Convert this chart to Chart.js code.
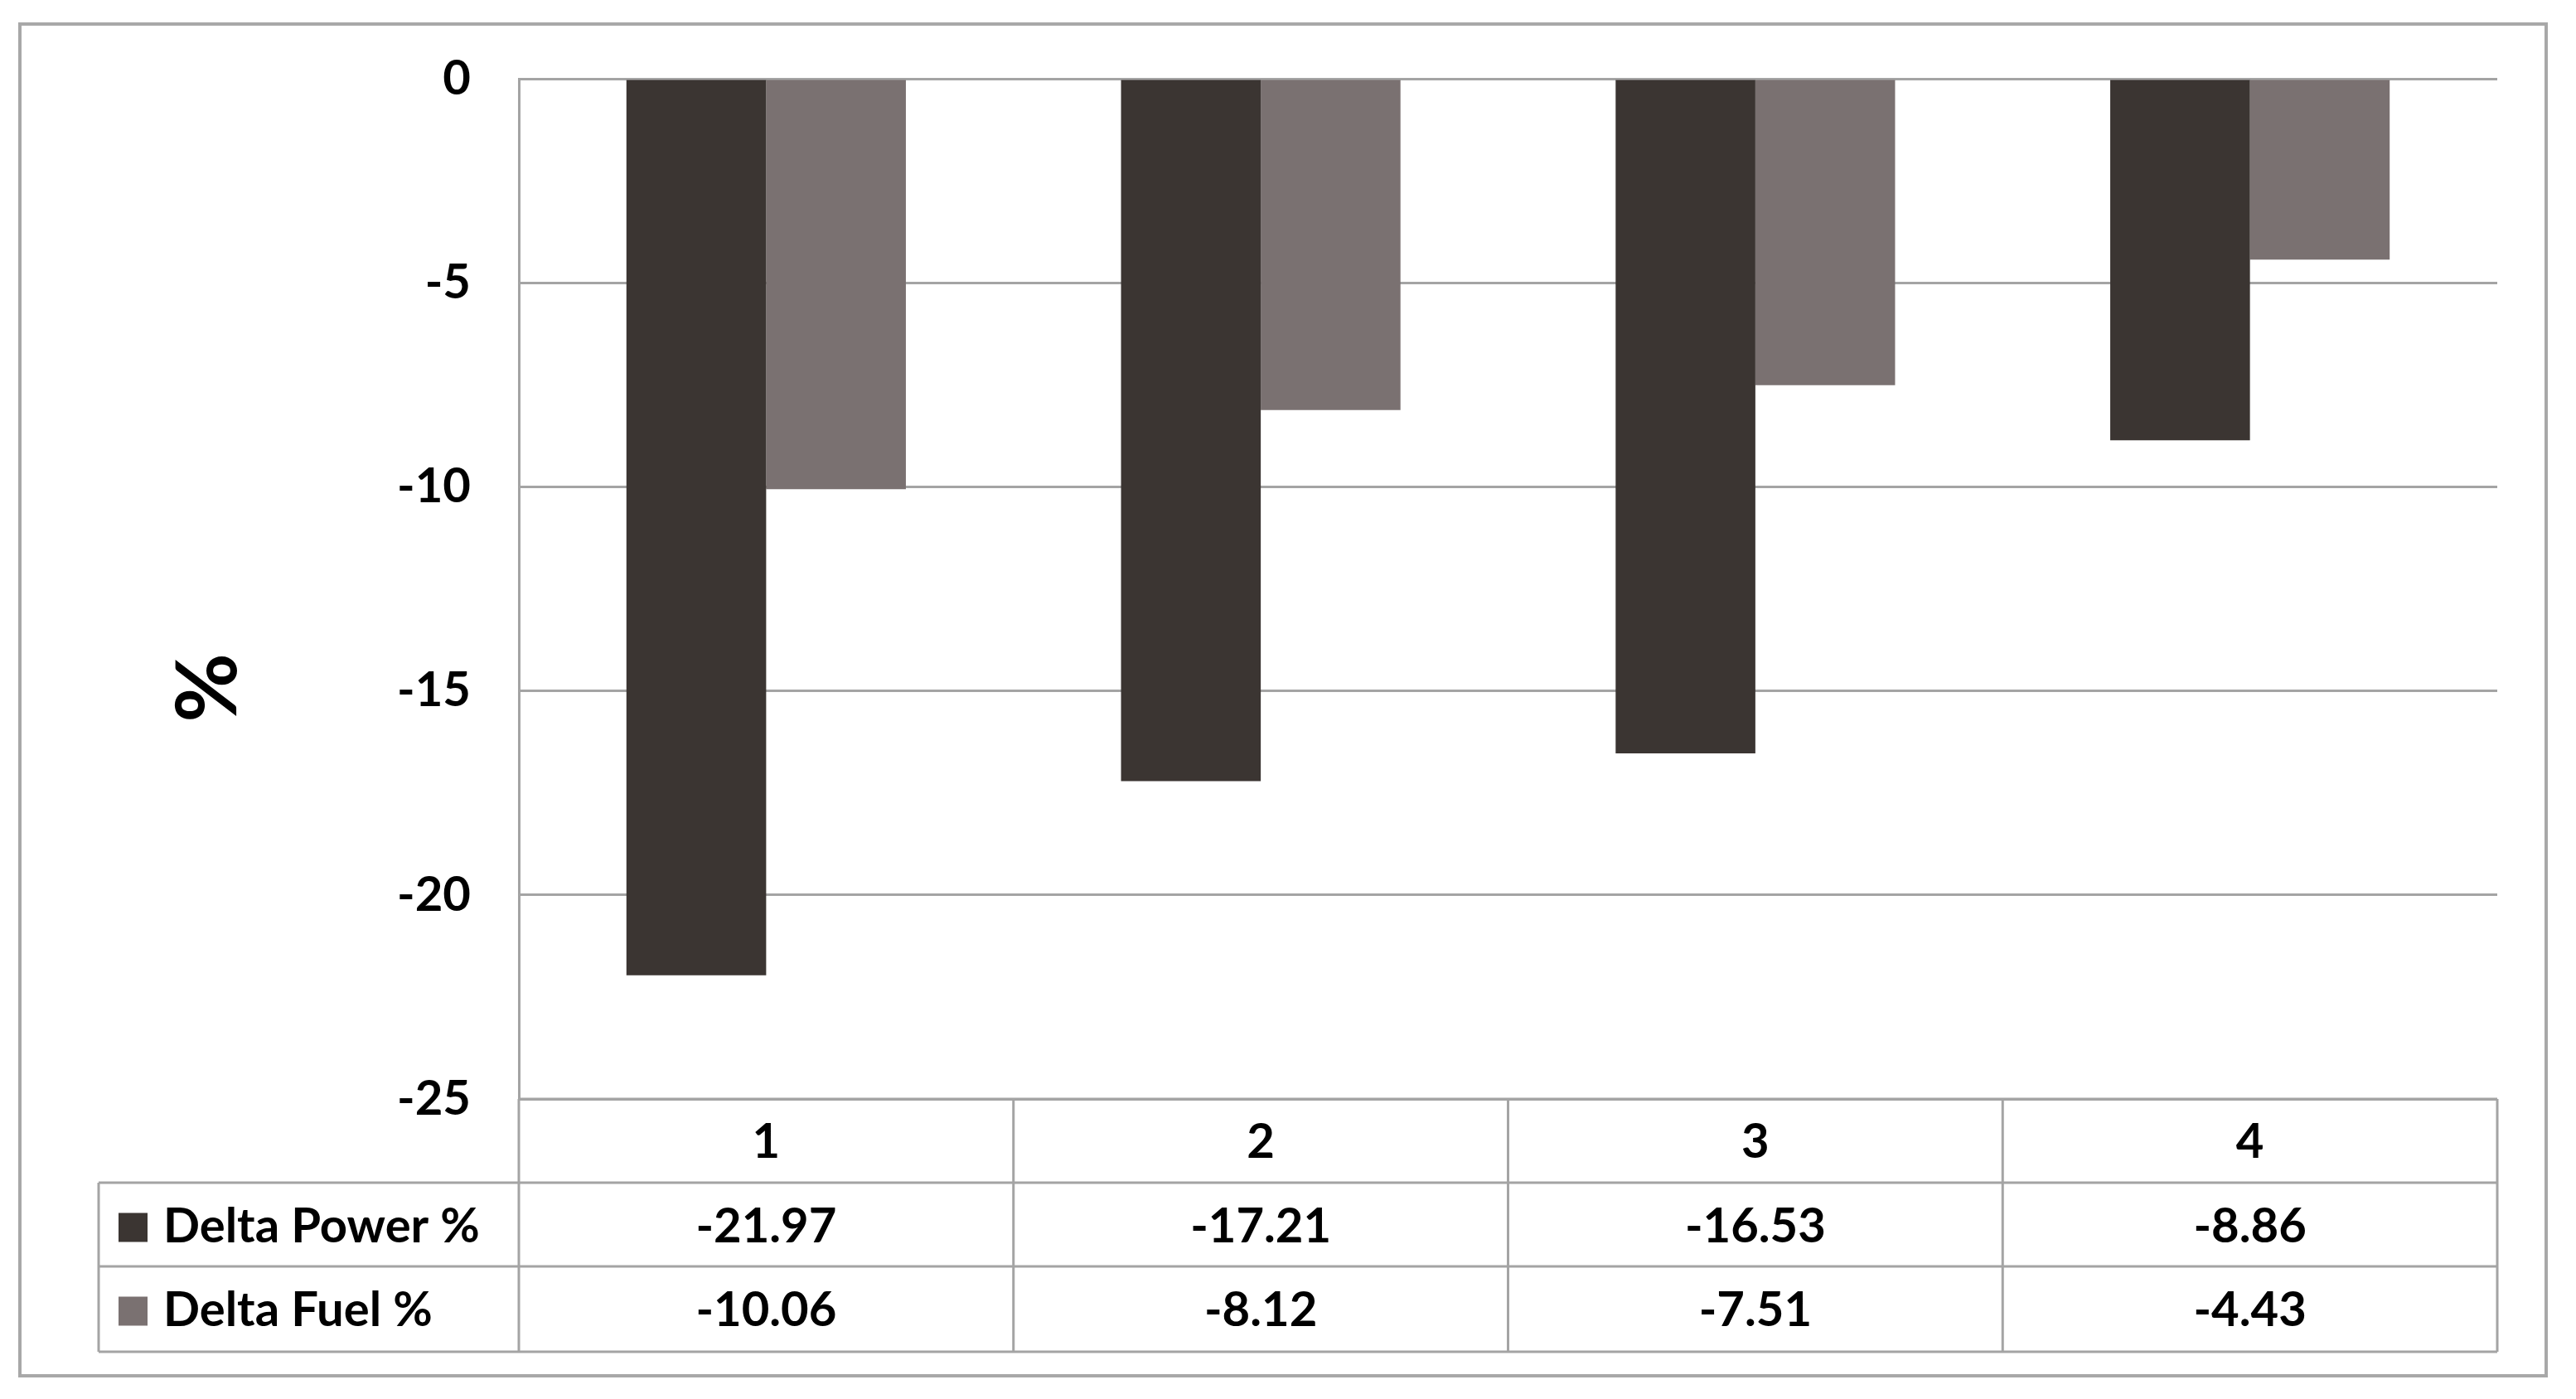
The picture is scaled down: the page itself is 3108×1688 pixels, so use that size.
<!DOCTYPE html>
<html>
<head>
<meta charset="utf-8">
<script src="https://cdn.jsdelivr.net/npm/chart.js@4.4.1/dist/chart.umd.min.js"></script>
<style>
  html, body { margin:0; padding:0; background:#fff; }
  #wrap { width:3108px; height:1688px; position:relative; }
</style>
</head>
<body>
<div id="wrap"><canvas id="c" width="3108" height="1688"></canvas></div>
<script>
const categories = ['1', '2', '3', '4'];
const deltaPower = [-21.97, -17.21, -16.53, -8.86];
const deltaFuel = [-10.06, -8.12, -7.51, -4.43];
const seriesNames = ['Delta Power %', 'Delta Fuel %'];
const yTicks = [0, -5, -10, -15, -20, -25];
const yTitle = '%';

const colors = ['#3b3532', '#7a7171'];
const lineCol = '#a4a4a4';
const fontFam = 'Lato, "Noto Sans", sans-serif';

// outer frame, y title and data table under the plot
const tablePlugin = {
  id: 'tablePlugin',
  afterDraw(chart) {
    const { ctx, chartArea: a, scales: { x } } = chart;
    const rowH = 101;
    const leftEdge = 119;
    const r0 = a.bottom, r1 = r0 + rowH, r2 = r1 + rowH, r3 = r2 + rowH + 2;
    const colW = x.width / categories.length;
    ctx.save();
    // outer frame
    ctx.strokeStyle = '#a8a8a8';
    ctx.lineWidth = 4;
    ctx.strokeRect(24, 29, 3048, 1631);
    // table grid
    ctx.strokeStyle = lineCol;
    ctx.lineWidth = 3;
    ctx.beginPath();
    ctx.moveTo(a.left, r0); ctx.lineTo(a.right, r0);
    [r1, r2, r3].forEach(y => { ctx.moveTo(leftEdge, y); ctx.lineTo(a.right, y); });
    ctx.moveTo(leftEdge, r1); ctx.lineTo(leftEdge, r3);
    for (let i = 0; i <= categories.length; i++) {
      const xx = a.left + i * colW;
      ctx.moveTo(xx, r0); ctx.lineTo(xx, r3);
    }
    ctx.stroke();
    // text
    ctx.fillStyle = '#000';
    ctx.font = 'bold 58px ' + fontFam;
    ctx.textAlign = 'center';
    ctx.textBaseline = 'middle';
    const rows = [deltaPower, deltaFuel];
    categories.forEach((c, i) => {
      const cx = x.getPixelForValue(i);
      ctx.fillText(c, cx, r0 + rowH / 2 + 2);
      rows.forEach((vals, k) => {
        ctx.fillText(vals[i].toFixed(2), cx, r1 + k * rowH + rowH / 2 + 3);
      });
    });
    // legend keys
    ctx.textAlign = 'left';
    seriesNames.forEach((n, k) => {
      const cy = r1 + k * rowH + rowH / 2 + 3;
      ctx.fillStyle = colors[k];
      ctx.fillRect(143, cy - 17, 35, 35);
      ctx.fillStyle = '#000';
      ctx.fillText(n, 197, cy);
    });
    // rotated y title
    ctx.translate(252, 830);
    ctx.rotate(-Math.PI / 2);
    ctx.textAlign = 'center';
    ctx.font = 'bold 102px ' + fontFam;
    ctx.fillText(yTitle, 0, 0);
    ctx.restore();
  }
};

new Chart(document.getElementById('c'), {
  type: 'bar',
  data: {
    labels: categories,
    datasets: [
      { label: seriesNames[0], data: deltaPower, backgroundColor: colors[0] },
      { label: seriesNames[1], data: deltaFuel, backgroundColor: colors[1] }
    ]
  },
  options: {
    responsive: false,
    animation: false,
    layout: { padding: { left: 0, top: 95, right: 95, bottom: 362 } },
    plugins: { legend: { display: false }, tooltip: { enabled: false } },
    datasets: { bar: { categoryPercentage: 0.565, barPercentage: 1.0 } },
    scales: {
      x: { display: false, offset: true },
      y: {
        min: -25, max: 0,
        afterFit(s) { s.width = 626; },
        afterBuildTicks(s) { s.ticks = yTicks.map(v => ({ value: v })); },
        grid: { color: lineCol, lineWidth: 3, drawTicks: false },
        border: { display: true, color: lineCol, width: 3 },
        ticks: { color: '#000', padding: 58, font: { family: fontFam, size: 58, weight: 'bold' } }
      }
    }
  },
  plugins: [tablePlugin]
});
</script>
</body>
</html>
